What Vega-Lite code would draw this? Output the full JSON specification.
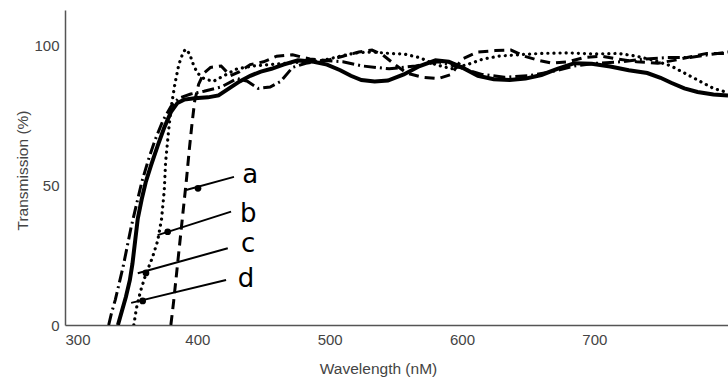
{
  "$schema": "https://vega.github.io/schema/vega-lite/v6.json",
  "width": 663,
  "height": 315,
  "autosize": {"type": "none"},
  "padding": {"left": 65, "top": 10, "right": 0, "bottom": 54},
  "background": "white",
  "config": {
    "view": {"stroke": null},
    "font": "Liberation Sans"
  },
  "datasets": {
    "curves": [
      {"s": "a", "wl": 380, "t": 0}, {"s": "a", "wl": 382, "t": 8}, {"s": "a", "wl": 384, "t": 17}, {"s": "a", "wl": 386, "t": 26},
      {"s": "a", "wl": 388, "t": 35}, {"s": "a", "wl": 390, "t": 44}, {"s": "a", "wl": 392, "t": 53}, {"s": "a", "wl": 394, "t": 63},
      {"s": "a", "wl": 396, "t": 72}, {"s": "a", "wl": 398, "t": 80}, {"s": "a", "wl": 401, "t": 86}, {"s": "a", "wl": 405, "t": 90},
      {"s": "a", "wl": 410, "t": 92}, {"s": "a", "wl": 418, "t": 92.5}, {"s": "a", "wl": 425, "t": 89}, {"s": "a", "wl": 432, "t": 90.5},
      {"s": "a", "wl": 440, "t": 93}, {"s": "a", "wl": 450, "t": 94}, {"s": "a", "wl": 460, "t": 96}, {"s": "a", "wl": 472, "t": 96.5},
      {"s": "a", "wl": 485, "t": 95}, {"s": "a", "wl": 498, "t": 94.5}, {"s": "a", "wl": 510, "t": 96}, {"s": "a", "wl": 522, "t": 97.5},
      {"s": "a", "wl": 532, "t": 98.2}, {"s": "a", "wl": 540, "t": 96.5}, {"s": "a", "wl": 548, "t": 93.5}, {"s": "a", "wl": 558, "t": 90},
      {"s": "a", "wl": 570, "t": 88.5}, {"s": "a", "wl": 582, "t": 88}, {"s": "a", "wl": 592, "t": 89.5}, {"s": "a", "wl": 600, "t": 95},
      {"s": "a", "wl": 612, "t": 97.5}, {"s": "a", "wl": 625, "t": 98}, {"s": "a", "wl": 637, "t": 98.2}, {"s": "a", "wl": 647, "t": 96},
      {"s": "a", "wl": 658, "t": 94.5}, {"s": "a", "wl": 668, "t": 93.5}, {"s": "a", "wl": 680, "t": 94}, {"s": "a", "wl": 692, "t": 95.5},
      {"s": "a", "wl": 705, "t": 96}, {"s": "a", "wl": 718, "t": 95}, {"s": "a", "wl": 732, "t": 94}, {"s": "a", "wl": 748, "t": 93.5},
      {"s": "a", "wl": 760, "t": 94.5}, {"s": "a", "wl": 772, "t": 95.7}, {"s": "a", "wl": 785, "t": 97}, {"s": "a", "wl": 801, "t": 97},

      {"s": "b", "wl": 352, "t": 0}, {"s": "b", "wl": 354, "t": 6}, {"s": "b", "wl": 357, "t": 12}, {"s": "b", "wl": 361, "t": 18},
      {"s": "b", "wl": 366, "t": 24}, {"s": "b", "wl": 370, "t": 30}, {"s": "b", "wl": 373, "t": 38}, {"s": "b", "wl": 375, "t": 48},
      {"s": "b", "wl": 376, "t": 58}, {"s": "b", "wl": 378, "t": 68}, {"s": "b", "wl": 380, "t": 77}, {"s": "b", "wl": 383, "t": 86},
      {"s": "b", "wl": 386, "t": 93}, {"s": "b", "wl": 389, "t": 97}, {"s": "b", "wl": 391, "t": 98.5}, {"s": "b", "wl": 394, "t": 97},
      {"s": "b", "wl": 397, "t": 93}, {"s": "b", "wl": 400, "t": 90}, {"s": "b", "wl": 405, "t": 88}, {"s": "b", "wl": 412, "t": 87},
      {"s": "b", "wl": 420, "t": 89}, {"s": "b", "wl": 430, "t": 91.5}, {"s": "b", "wl": 442, "t": 92.5}, {"s": "b", "wl": 455, "t": 93},
      {"s": "b", "wl": 468, "t": 93.5}, {"s": "b", "wl": 480, "t": 94}, {"s": "b", "wl": 495, "t": 94.5}, {"s": "b", "wl": 508, "t": 96},
      {"s": "b", "wl": 520, "t": 97.2}, {"s": "b", "wl": 532, "t": 97.5}, {"s": "b", "wl": 545, "t": 97}, {"s": "b", "wl": 556, "t": 96.8},
      {"s": "b", "wl": 568, "t": 95.5}, {"s": "b", "wl": 580, "t": 93}, {"s": "b", "wl": 592, "t": 91.5}, {"s": "b", "wl": 604, "t": 93},
      {"s": "b", "wl": 616, "t": 95}, {"s": "b", "wl": 628, "t": 96}, {"s": "b", "wl": 642, "t": 96.5}, {"s": "b", "wl": 660, "t": 97},
      {"s": "b", "wl": 680, "t": 97.2}, {"s": "b", "wl": 700, "t": 96.8}, {"s": "b", "wl": 718, "t": 97}, {"s": "b", "wl": 732, "t": 96},
      {"s": "b", "wl": 745, "t": 94.5}, {"s": "b", "wl": 758, "t": 92.5}, {"s": "b", "wl": 770, "t": 89.5}, {"s": "b", "wl": 780, "t": 87},
      {"s": "b", "wl": 790, "t": 84.5}, {"s": "b", "wl": 801, "t": 83},

      {"s": "c", "wl": 333, "t": 0}, {"s": "c", "wl": 335, "t": 4}, {"s": "c", "wl": 338, "t": 9}, {"s": "c", "wl": 341, "t": 15},
      {"s": "c", "wl": 344, "t": 21}, {"s": "c", "wl": 347, "t": 28}, {"s": "c", "wl": 350, "t": 35}, {"s": "c", "wl": 354, "t": 43},
      {"s": "c", "wl": 358, "t": 51}, {"s": "c", "wl": 363, "t": 59}, {"s": "c", "wl": 368, "t": 66}, {"s": "c", "wl": 374, "t": 73},
      {"s": "c", "wl": 380, "t": 78}, {"s": "c", "wl": 386, "t": 81}, {"s": "c", "wl": 395, "t": 82.5}, {"s": "c", "wl": 405, "t": 83.5},
      {"s": "c", "wl": 418, "t": 85}, {"s": "c", "wl": 430, "t": 88}, {"s": "c", "wl": 438, "t": 87}, {"s": "c", "wl": 446, "t": 84.5},
      {"s": "c", "wl": 455, "t": 85}, {"s": "c", "wl": 463, "t": 87}, {"s": "c", "wl": 472, "t": 92}, {"s": "c", "wl": 482, "t": 93.5},
      {"s": "c", "wl": 495, "t": 94.5}, {"s": "c", "wl": 510, "t": 94}, {"s": "c", "wl": 525, "t": 92.5}, {"s": "c", "wl": 545, "t": 91.5},
      {"s": "c", "wl": 565, "t": 92.5}, {"s": "c", "wl": 582, "t": 94}, {"s": "c", "wl": 598, "t": 92}, {"s": "c", "wl": 615, "t": 89.5},
      {"s": "c", "wl": 632, "t": 88.5}, {"s": "c", "wl": 650, "t": 89}, {"s": "c", "wl": 668, "t": 90.5}, {"s": "c", "wl": 685, "t": 92.5},
      {"s": "c", "wl": 702, "t": 93.5}, {"s": "c", "wl": 720, "t": 94}, {"s": "c", "wl": 738, "t": 95}, {"s": "c", "wl": 755, "t": 95.5},
      {"s": "c", "wl": 772, "t": 95.5}, {"s": "c", "wl": 786, "t": 96.5}, {"s": "c", "wl": 801, "t": 97.5},

      {"s": "d", "wl": 340, "t": 0}, {"s": "d", "wl": 343, "t": 5}, {"s": "d", "wl": 346, "t": 10}, {"s": "d", "wl": 349, "t": 16},
      {"s": "d", "wl": 351, "t": 22}, {"s": "d", "wl": 353, "t": 30}, {"s": "d", "wl": 355, "t": 38}, {"s": "d", "wl": 358, "t": 45},
      {"s": "d", "wl": 361, "t": 51}, {"s": "d", "wl": 365, "t": 57}, {"s": "d", "wl": 370, "t": 64}, {"s": "d", "wl": 375, "t": 70.5},
      {"s": "d", "wl": 380, "t": 76}, {"s": "d", "wl": 385, "t": 79.3}, {"s": "d", "wl": 390, "t": 80.5}, {"s": "d", "wl": 398, "t": 81},
      {"s": "d", "wl": 408, "t": 81.3}, {"s": "d", "wl": 416, "t": 82}, {"s": "d", "wl": 424, "t": 84.5}, {"s": "d", "wl": 432, "t": 87},
      {"s": "d", "wl": 440, "t": 89}, {"s": "d", "wl": 448, "t": 90.5}, {"s": "d", "wl": 456, "t": 91.5}, {"s": "d", "wl": 465, "t": 93},
      {"s": "d", "wl": 476, "t": 94.5}, {"s": "d", "wl": 488, "t": 94}, {"s": "d", "wl": 498, "t": 93}, {"s": "d", "wl": 508, "t": 91},
      {"s": "d", "wl": 516, "t": 89}, {"s": "d", "wl": 524, "t": 87.5}, {"s": "d", "wl": 534, "t": 87}, {"s": "d", "wl": 544, "t": 87.3},
      {"s": "d", "wl": 556, "t": 89.5}, {"s": "d", "wl": 568, "t": 92.5}, {"s": "d", "wl": 580, "t": 94.5}, {"s": "d", "wl": 590, "t": 94},
      {"s": "d", "wl": 600, "t": 92}, {"s": "d", "wl": 612, "t": 89}, {"s": "d", "wl": 624, "t": 87.8}, {"s": "d", "wl": 636, "t": 87.5},
      {"s": "d", "wl": 648, "t": 88}, {"s": "d", "wl": 660, "t": 89.3}, {"s": "d", "wl": 672, "t": 91.5}, {"s": "d", "wl": 685, "t": 93.5},
      {"s": "d", "wl": 698, "t": 93.3}, {"s": "d", "wl": 712, "t": 92.3}, {"s": "d", "wl": 726, "t": 91}, {"s": "d", "wl": 740, "t": 90},
      {"s": "d", "wl": 750, "t": 88.3}, {"s": "d", "wl": 758, "t": 86.5}, {"s": "d", "wl": 768, "t": 84.5}, {"s": "d", "wl": 778, "t": 83.2},
      {"s": "d", "wl": 790, "t": 82.3}, {"s": "d", "wl": 801, "t": 82}
    ],
    "pointers": [
      {"s": "a", "wl": 391.5, "t": 48.2, "wl2": 427.7, "t2": 52.9, "dwl": 400.5, "dt": 48.8, "lwl": 440, "lt": 50.7},
      {"s": "b", "wl": 370, "t": 32.1, "wl2": 425.5, "t2": 40.5, "dwl": 377.6, "dt": 33.3, "lwl": 438.5, "lt": 36.8},
      {"s": "c", "wl": 355, "t": 18.5, "wl2": 423, "t2": 27.4, "dwl": 361.2, "dt": 18.6, "lwl": 438.3, "lt": 26.1},
      {"s": "d", "wl": 350, "t": 7.9, "wl2": 421.7, "t2": 16.1, "dwl": 358.7, "dt": 8.6, "lwl": 436.8, "lt": 13.6}
    ]
  },
  "encoding": {
    "x": {
      "field": "wl",
      "type": "quantitative",
      "scale": {"domain": [300, 801], "nice": false, "zero": false},
      "axis": {
        "title": "Wavelength (nM)",
        "values": [300, 400, 500, 600, 700],
        "labelFlush": true,
        "ticks": false,
        "grid": false,
        "domainColor": "#555555",
        "domainWidth": 1.5,
        "labelColor": "#444444",
        "labelFontSize": 15,
        "labelPadding": 7,
        "titleColor": "#444444",
        "titleFontSize": 15.5,
        "titleFontWeight": "normal",
        "titleX": 313,
        "titleY": 43,
        "titleBaseline": "middle"
      }
    },
    "y": {
      "field": "t",
      "type": "quantitative",
      "scale": {"domain": [0, 112.5], "nice": false},
      "axis": {
        "title": "Transmission (%)",
        "values": [0, 50, 100],
        "ticks": false,
        "grid": false,
        "domainColor": "#555555",
        "domainWidth": 1.5,
        "labelColor": "#444444",
        "labelFontSize": 15,
        "labelPadding": 6,
        "titleColor": "#444444",
        "titleFontSize": 15.5,
        "titleFontWeight": "normal",
        "titleX": -43,
        "titleY": 160,
        "titleAngle": -90,
        "titleAlign": "center",
        "titleBaseline": "middle"
      }
    }
  },
  "layer": [
    {
      "data": {"name": "curves"},
      "transform": [{"filter": "datum.s === 'a'"}],
      "mark": {"type": "line", "color": "black", "strokeWidth": 3, "strokeDash": [10, 6], "clip": true}
    },
    {
      "data": {"name": "curves"},
      "transform": [{"filter": "datum.s === 'b'"}],
      "mark": {"type": "line", "color": "black", "strokeWidth": 3.2, "strokeDash": [0.1, 6], "strokeCap": "round", "clip": true}
    },
    {
      "data": {"name": "curves"},
      "transform": [{"filter": "datum.s === 'c'"}],
      "mark": {"type": "line", "color": "black", "strokeWidth": 3, "strokeDash": [12, 4, 2, 4], "clip": true}
    },
    {
      "data": {"name": "curves"},
      "transform": [{"filter": "datum.s === 'd'"}],
      "mark": {"type": "line", "color": "black", "strokeWidth": 4, "clip": true}
    },
    {
      "data": {"name": "pointers"},
      "mark": {"type": "rule", "color": "black", "strokeWidth": 2},
      "encoding": {
        "x2": {"field": "wl2"},
        "y2": {"field": "t2"}
      }
    },
    {
      "data": {"name": "pointers"},
      "mark": {"type": "point", "filled": true, "color": "black", "opacity": 1, "size": 45},
      "encoding": {
        "x": {"field": "dwl", "type": "quantitative"},
        "y": {"field": "dt", "type": "quantitative"}
      }
    },
    {
      "data": {"name": "pointers"},
      "mark": {"type": "text", "color": "black", "fontSize": 26, "align": "center", "baseline": "alphabetic", "font": "DejaVu Sans"},
      "encoding": {
        "x": {"field": "lwl", "type": "quantitative"},
        "y": {"field": "lt", "type": "quantitative"},
        "text": {"field": "s"}
      }
    }
  ]
}
